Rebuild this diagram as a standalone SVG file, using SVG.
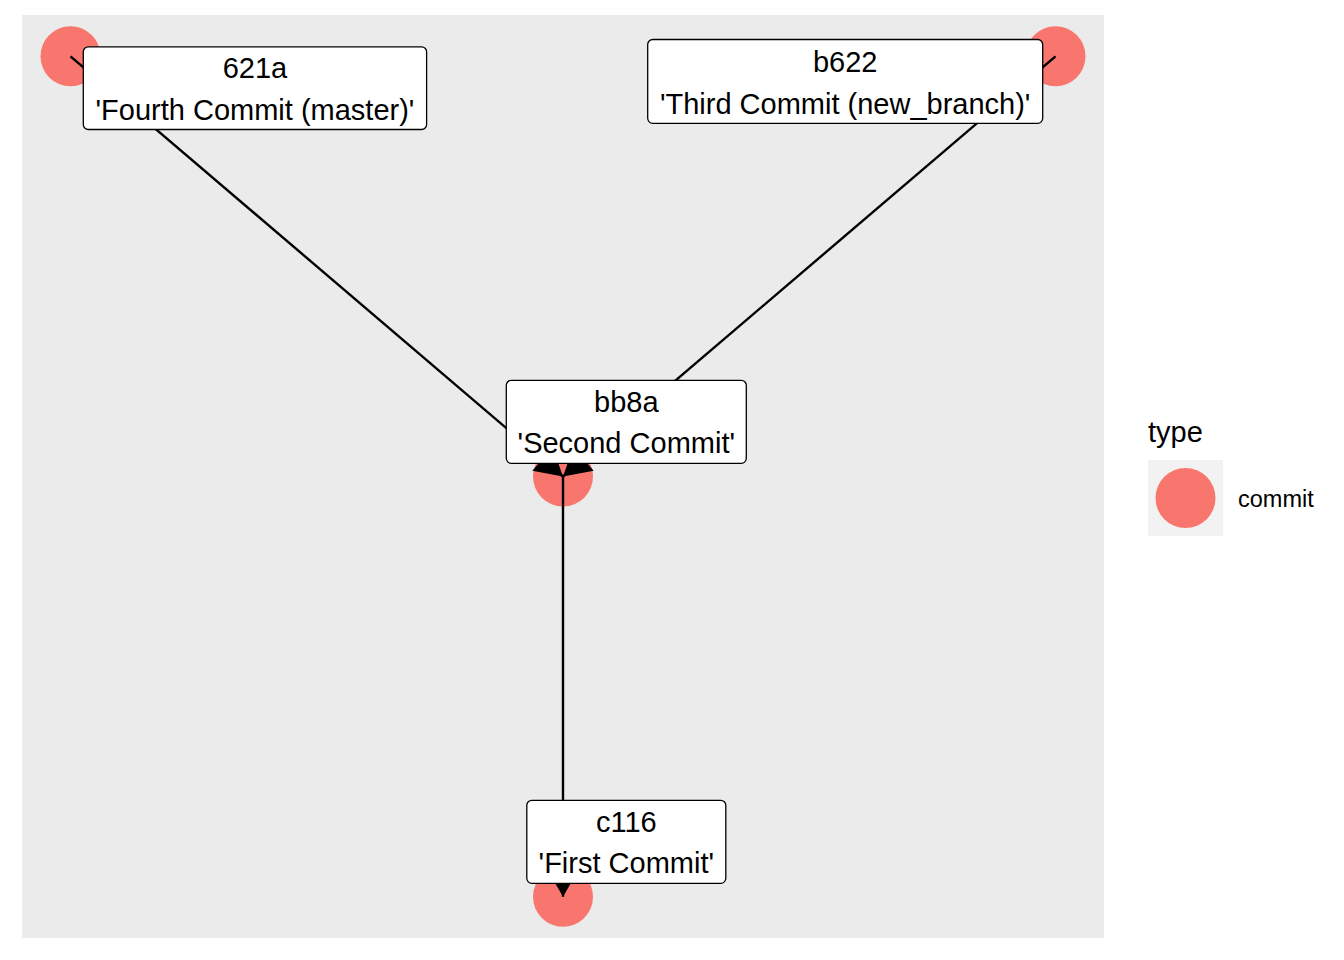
<svg xmlns="http://www.w3.org/2000/svg" width="1344" height="960" viewBox="0 0 1344 960">
<style>
.pt{fill:#F8766D}
.edge{stroke:#000;stroke-width:2.4;fill:none}
.box{fill:#fff;stroke:#000;stroke-width:1.3}
.lbl{font-family:"Liberation Sans",Arial,sans-serif;font-size:29px;fill:#000;text-anchor:middle}
.leg{font-family:"Liberation Sans",Arial,sans-serif;fill:#000}
</style>
<defs>
<marker id="arr" viewBox="0 0 27 31.18" refX="27" refY="15.59" markerWidth="27" markerHeight="31.18" markerUnits="userSpaceOnUse" orient="auto" overflow="visible">
<path d="M0,0 L27,15.59 L0,31.18 Z" fill="#000"/>
</marker>
</defs>
<rect x="0" y="0" width="1344" height="960" fill="#fff"/>
<rect x="22" y="15" width="1082" height="923" fill="#EBEBEB"/>
<g id="points">
<circle class="pt" cx="70.5" cy="56.3" r="30"/>
<circle class="pt" cx="1055.5" cy="56.3" r="30"/>
<circle class="pt" cx="563" cy="476.5" r="30"/>
<circle class="pt" cx="563" cy="896.7" r="30"/>
</g>
<g id="connectors">
<line class="edge" x1="70.5" y1="56.3" x2="563" y2="476.5" marker-end="url(#arr)"/>
<line class="edge" x1="1055.5" y1="56.3" x2="563" y2="476.5" marker-end="url(#arr)"/>
<line class="edge" x1="563" y1="476.5" x2="563" y2="896.7" marker-end="url(#arr)"/>
</g>
<g id="node-621a">
<rect class="box" x="83.3" y="46.8" width="343.3" height="82.7" rx="5"/>
<text class="lbl" x="255" y="78">621a</text>
<text class="lbl" x="255" y="120">'Fourth Commit (master)'</text>
</g>
<g id="node-b622">
<rect class="box" x="647.7" y="39.5" width="395" height="83.8" rx="5"/>
<text class="lbl" x="845.2" y="72">b622</text>
<text class="lbl" x="845.2" y="114">'Third Commit (new_branch)'</text>
</g>
<g id="node-bb8a">
<rect class="box" x="506.3" y="380.3" width="240" height="83" rx="5"/>
<text class="lbl" x="626.3" y="412">bb8a</text>
<text class="lbl" x="626.3" y="453">'Second Commit'</text>
</g>
<g id="node-c116">
<rect class="box" x="526.8" y="800.3" width="199" height="83" rx="5"/>
<text class="lbl" x="626.3" y="832">c116</text>
<text class="lbl" x="626.3" y="873">'First Commit'</text>
</g>
<g id="legend">
<text class="leg" x="1148" y="442" font-size="29">type</text>
<rect x="1148" y="460" width="75" height="76" fill="#F2F2F2"/>
<circle class="pt" cx="1185.5" cy="498" r="30"/>
<text class="leg" x="1238" y="507" font-size="23.5">commit</text>
</g>
</svg>
